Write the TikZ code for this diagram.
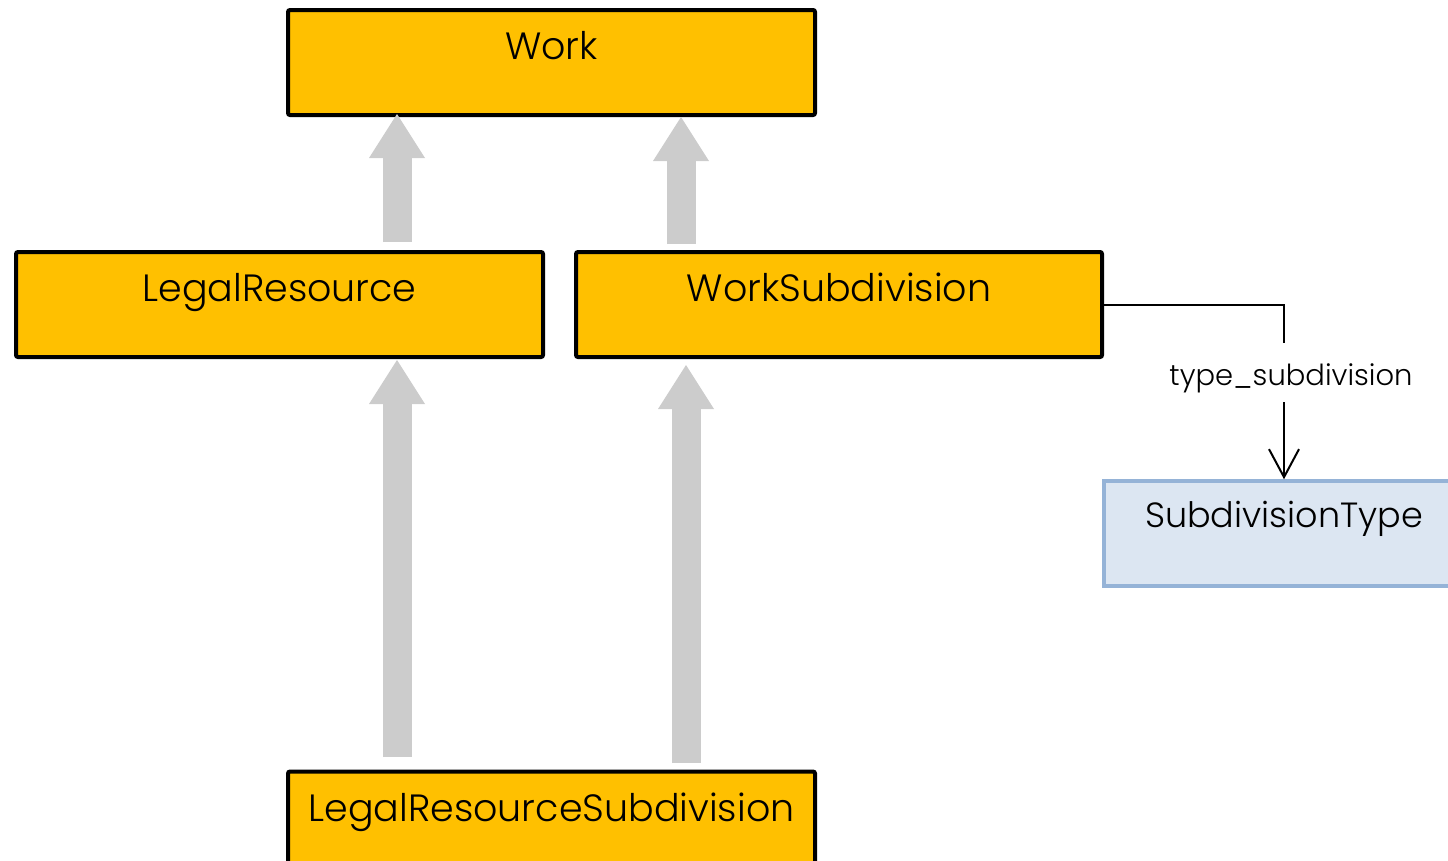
\documentclass[tikz,border=0pt]{standalone}
\usepackage{fontspec}
\setmainfont{Poppins}[UprightFont=* Light]
\usetikzlibrary{arrows.meta,calc}
\definecolor{boxorange}{HTML}{FFC000}
\definecolor{inhgrey}{HTML}{CCCCCC}
\definecolor{typefill}{HTML}{DCE6F2}
\definecolor{typeborder}{HTML}{95B3D7}
\tikzset{
  classbox/.style={draw=black, line width=4pt, fill=boxorange, rounded corners=2pt,
    minimum width=527pt, minimum height=105pt, inner sep=0pt,
    text height=32pt, text depth=38pt, font=\fontsize{38}{46}\selectfont},
  typebox/.style={draw=typeborder, line width=3.5pt, fill=typefill,
    minimum width=360pt, minimum height=105pt, inner sep=0pt,
    text height=32pt, text depth=44pt, font=\fontsize{35}{42}\selectfont},
  inh/.style={draw=inhgrey, line width=29pt, line cap=butt,
    -{Triangle[length=44pt,width=56pt,line width=0pt]}},
  assoc/.style={draw=black, line width=2pt,
    -{Straight Barb[length=28pt,width=30pt,line width=2pt]}},
  assoclabel/.style={fill=white, inner sep=0pt, minimum height=59pt,
    text height=28pt, text depth=2pt, font=\fontsize{29}{35}\selectfont}
}
\begin{document}
\begin{tikzpicture}[x=1pt,y=-1pt]
\useasboundingbox (0,0) rectangle (1448,860);
\node[classbox] (work) at (551.5,62.5) {Work};
\node[classbox] (lr) at (279.5,304.5) {LegalResource};
\node[classbox, minimum width=526pt] (ws) at (839,304.5) {WorkSubdivision};
\node[classbox] (lrs) at (551.5,824) {LegalResourceSubdivision};
\node[typebox] (st) at (1284,533.5) {SubdivisionType};
\coordinate (c1) at (397,0);
\coordinate (c2) at (681,0);
\coordinate (c4) at (686,0);
\draw[inh] ([yshift=8pt]lr.north -| c1) -- ([yshift=3pt]work.south -| c1);
\draw[inh] ([yshift=6pt]ws.north -| c2) -- (work.south -| c2);
\draw[inh] ([yshift=12.5pt]lrs.north -| c1) -- ([yshift=-1pt]lr.south -| c1);
\draw[inh] ([yshift=6.5pt]lrs.north -| c4) -- ([yshift=-6pt]ws.south -| c4);
\draw[assoc] (ws.east) -| node[assoclabel, pos=0.695, xshift=7pt] {type\_subdivision} (st.north);
\end{tikzpicture}
\end{document}
